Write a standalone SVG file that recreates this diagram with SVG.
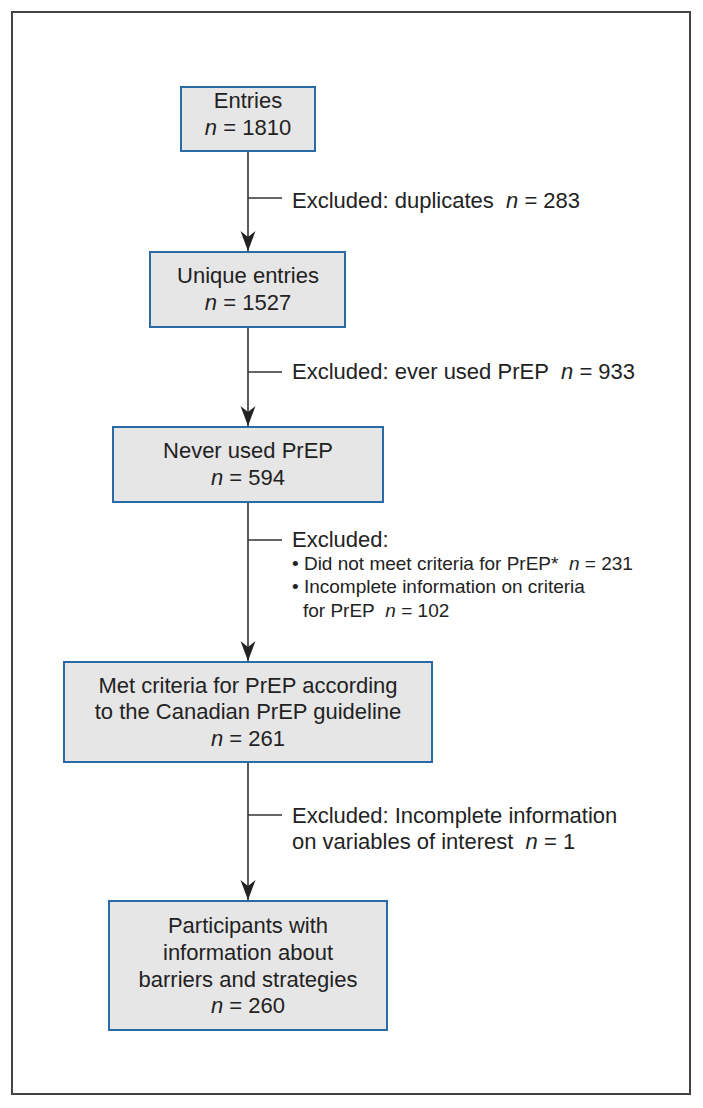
<svg xmlns="http://www.w3.org/2000/svg" width="703" height="1108" viewBox="0 0 703 1108">
<style>
.box{fill:#e6e6e6;stroke:#2b6aa8;stroke-width:2}
.t{font-family:"Liberation Sans",Arial,sans-serif;font-size:22px;fill:#222}
.c{text-anchor:middle}
.s{font-size:19px}
.ln{stroke:#333;stroke-width:1.6;fill:none}
.i{font-style:italic}
</style>
<defs>
<marker id="ah" viewBox="-20 -8 21 16" refX="0" refY="0" markerWidth="21" markerHeight="16" markerUnits="userSpaceOnUse" orient="auto">
<path d="M0,0 L-20,-7.5 L-14,0 L-20,7.5 Z" fill="#222"/>
</marker>
</defs>
<rect x="12" y="12" width="678" height="1082" fill="none" stroke="#444" stroke-width="2"/>
<g id="connectors">
<line class="ln" x1="248" y1="151" x2="248" y2="251" marker-end="url(#ah)"/>
<line class="ln" x1="248" y1="198" x2="282" y2="198"/>
<line class="ln" x1="248" y1="327" x2="248" y2="426" marker-end="url(#ah)"/>
<line class="ln" x1="248" y1="372" x2="282" y2="372"/>
<line class="ln" x1="248" y1="502" x2="248" y2="661" marker-end="url(#ah)"/>
<line class="ln" x1="248" y1="540" x2="282" y2="540"/>
<line class="ln" x1="248" y1="762" x2="248" y2="900" marker-end="url(#ah)"/>
<line class="ln" x1="248" y1="815" x2="282" y2="815"/>
</g>
<g id="labels">
<text class="t" x="292" y="208">Excluded: duplicates&#160; <tspan class="i">n</tspan> = 283</text>
<text class="t" x="292" y="379">Excluded: ever used PrEP&#160; <tspan class="i">n</tspan> = 933</text>
<text class="t" x="292" y="547">Excluded:</text>
<text class="t s" x="292" y="570">• Did not meet criteria for PrEP*&#160; <tspan class="i">n</tspan> = 231</text>
<text class="t s" x="292" y="593">• Incomplete information on criteria</text>
<text class="t s" x="303" y="617">for PrEP&#160; <tspan class="i">n</tspan> = 102</text>
<text class="t" x="292" y="823">Excluded: Incomplete information</text>
<text class="t" x="292" y="849">on variables of interest&#160; <tspan class="i">n</tspan> = 1</text>
</g>
<g id="n1">
<rect class="box" x="181" y="87" width="134" height="64"/>
<text class="t c" x="248" y="108">Entries</text>
<text class="t c" x="248" y="135"><tspan class="i">n</tspan> = 1810</text>
</g>
<g id="n2">
<rect class="box" x="150" y="252" width="195" height="75"/>
<text class="t c" x="248" y="283">Unique entries</text>
<text class="t c" x="248" y="310"><tspan class="i">n</tspan> = 1527</text>
</g>
<g id="n3">
<rect class="box" x="113" y="427" width="270" height="75"/>
<text class="t c" x="248" y="458">Never used PrEP</text>
<text class="t c" x="248" y="485"><tspan class="i">n</tspan> = 594</text>
</g>
<g id="n4">
<rect class="box" x="64" y="662" width="368" height="100"/>
<text class="t c" x="248" y="693">Met criteria for PrEP according</text>
<text class="t c" x="248" y="719">to the Canadian PrEP guideline</text>
<text class="t c" x="248" y="746"><tspan class="i">n</tspan> = 261</text>
</g>
<g id="n5">
<rect class="box" x="109" y="901" width="278" height="129"/>
<text class="t c" x="248" y="933">Participants with</text>
<text class="t c" x="248" y="960">information about</text>
<text class="t c" x="248" y="987">barriers and strategies</text>
<text class="t c" x="248" y="1013"><tspan class="i">n</tspan> = 260</text>
</g>
</svg>
